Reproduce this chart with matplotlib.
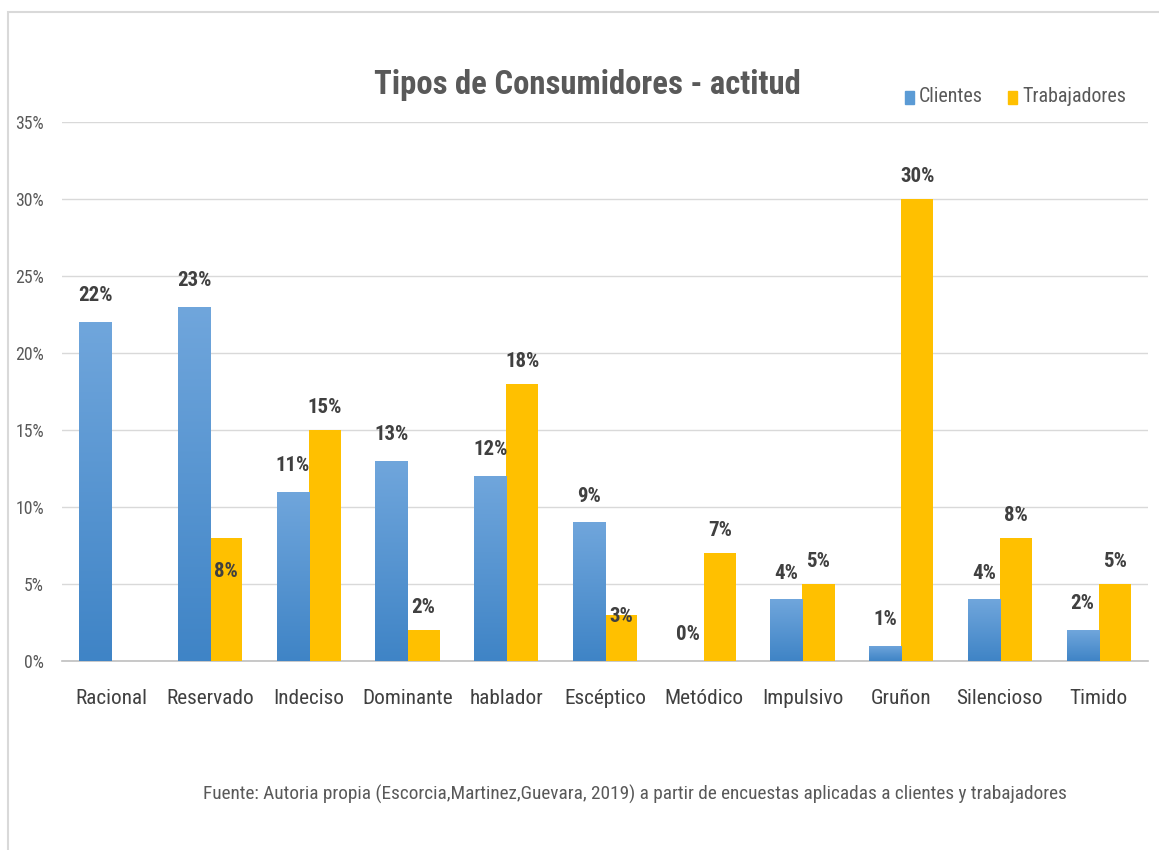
import numpy as np
import matplotlib
matplotlib.use('Agg')
from matplotlib import pyplot as plt
from matplotlib import font_manager as fm
from matplotlib.patches import Rectangle

nombres = {f.name for f in fm.fontManager.ttflist}
familia = 'Liberation Sans'
for cand in ['Roboto Condensed', 'Liberation Sans Narrow', 'Roboto']:
    if cand in nombres:
        familia = cand
        break
plt.rcParams['font.family'] = [familia, 'DejaVu Sans']

categorias = ['Racional', 'Reservado', 'Indeciso', 'Dominante', 'hablador',
              'Escéptico', 'Metódico', 'Impulsivo', 'Gruñon', 'Silencioso', 'Timido']
clientes = [22, 23, 11, 13, 12, 9, 0, 4, 1, 4, 2]
trabajadores = [np.nan, 8, 15, 2, 18, 3, 7, 5, 30, 8, 5]
yticks = [0, 5, 10, 15, 20, 25, 30, 35]

txt = '#404040'
grey = '#595959'
azul = '#5b9bd5'
amarillo = '#ffc000'

fig = plt.figure(figsize=(11.59, 8.5), dpi=100)
ax = fig.add_axes([62/1159, 1 - 661/850, (1148 - 62)/1159, (661 - 122)/850])

x = np.arange(len(categorias))
w = 0.325
b1 = ax.bar(x - w/2, clientes, w, color=azul, zorder=3)
b2 = ax.bar(x + w/2, trabajadores, w, color=amarillo, zorder=3)

# gradiente vertical en las barras azules
grad = np.linspace(0, 1, 256).reshape(-1, 1)
cmap = matplotlib.colors.LinearSegmentedColormap.from_list('g', ['#3f84c6', '#70a6dc'])
for r in b1:
    if r.get_height() <= 0:
        continue
    x0, y0 = r.get_x(), r.get_y()
    im = ax.imshow(grad, cmap=cmap, origin='lower', aspect='auto', zorder=3.5,
                   extent=[x0, x0 + r.get_width(), y0, y0 + r.get_height()])
    im.set_clip_path(r)

ax.set_xlim(-0.5, len(categorias) - 0.5)
ax.set_ylim(0, 35)
ax.set_yticks(yticks)
ax.set_yticklabels([f'{v}%' for v in yticks], color=grey, fontsize=12.8)
ax.set_xticks(x)
ax.set_xticklabels(categorias, color=txt, fontsize=15.3)
ax.tick_params(axis='x', length=0, pad=20)
ax.tick_params(axis='y', length=0, pad=13)
ax.grid(axis='y', color='#d9d9d9', lw=1, zorder=0)
for s in ['top', 'right', 'left']:
    ax.spines[s].set_visible(False)
ax.spines['bottom'].set_color('#bfbfbf')
ax.spines['bottom'].set_linewidth(1.2)

# etiquetas de datos
for r, v in zip(b1, clientes):
    ax.annotate(f'{v}%', (r.get_x() + r.get_width()/2, v), xytext=(0, 19),
                textcoords='offset points', ha='center', va='center',
                fontsize=15, fontweight='bold', color=txt, zorder=5)
for i, (r, v) in enumerate(zip(b2, trabajadores)):
    if np.isnan(v):
        continue
    dy = 16
    if categorias[i] == 'Reservado':
        dy = -24
    if categorias[i] == 'Escéptico':
        dy = -1
    ax.annotate(f'{v:.0f}%', (r.get_x() + r.get_width()/2, v), xytext=(0, dy),
                textcoords='offset points', ha='center', va='center',
                fontsize=15, fontweight='bold', color=txt, zorder=5)

fig.text(587/1159, 1 - 85/850, 'Tipos de Consumidores - actitud', ha='center', va='center',
         fontsize=23.6, fontweight='bold', color=grey)

# leyenda
for xs, lab, c in [(905, 'Clientes', azul), (1008, 'Trabajadores', amarillo)]:
    fig.patches.append(Rectangle((xs/1159, 1 - 104/850), 9/1159, 13/850,
                                 transform=fig.transFigure, color=c))
    fig.text((xs + 14)/1159, 1 - 96/850, lab, ha='left', va='center',
             fontsize=14.4, color=grey)

fig.text(635/1159, 1 - 794/850,
         'Fuente: Autoria propia (Escorcia,Martinez,Guevara, 2019) a partir de encuestas aplicadas a clientes y trabajadores',
         ha='center', va='center', fontsize=13.9, color=grey)

# marco del grafico
fig.patches.append(Rectangle((8/1159, -0.1), 1.2, 1 - 12/850 + 0.1, transform=fig.transFigure,
                             fill=False, edgecolor='#d9d9d9', lw=1.5))

fig.savefig('out.png', dpi=100, facecolor='white')
